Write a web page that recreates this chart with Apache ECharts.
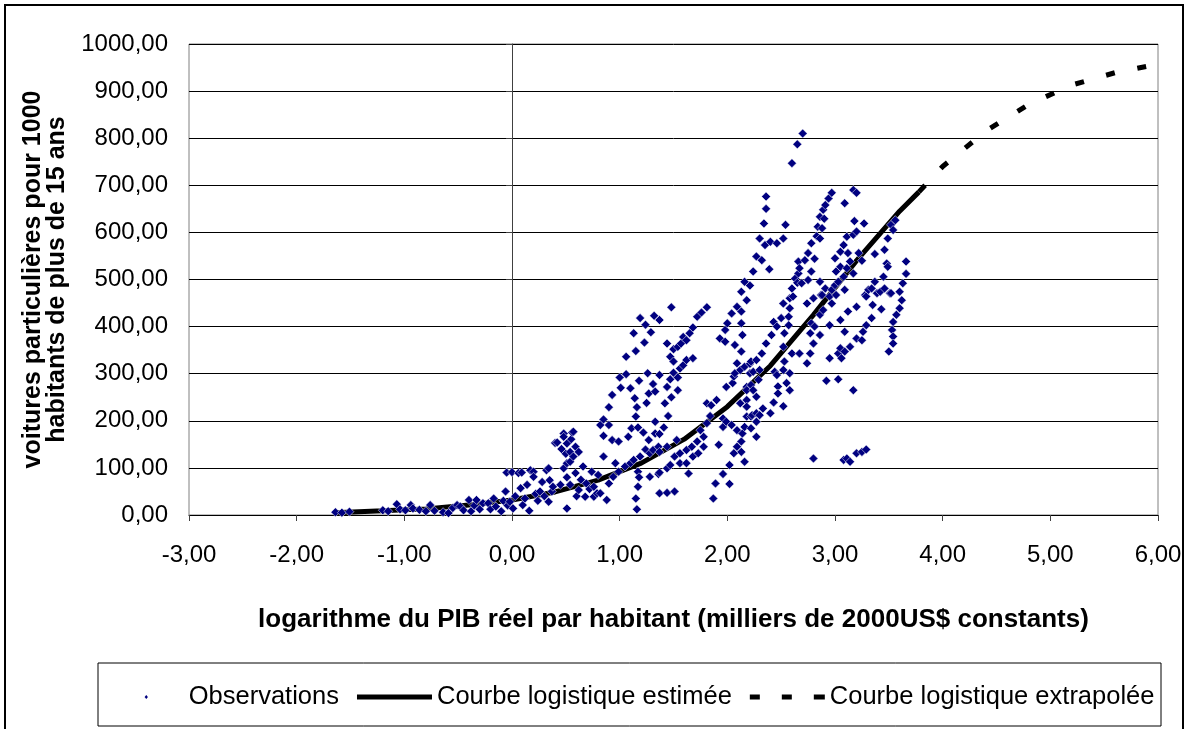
<!DOCTYPE html>
<html>
<head>
<meta charset="utf-8">
<script src="https://cdn.jsdelivr.net/npm/echarts/dist/echarts.min.js"></script>
<style>
html,body{margin:0;padding:0;background:#fff;}
#chart{width:1188px;height:729px;}
</style>
</head>
<body>
<div id="chart"></div>
<script>
// ---- Data ----
const xLabelTitle = "logarithme du PIB réel par habitant (milliers de 2000US$ constants)";
const yLabelTitle = "voitures particulières pour 1000\nhabitants de plus de 15 ans";
const seriesNames = ["Observations", "Courbe logistique estimée", "Courbe logistique extrapolée"];

// Observations, grouped by ranges of x  ([x, y] pairs)
const obsA = [[-1.64,6],[-1.58,5],[-1.51,7],
[-1.20,10],[-1.15,8],[-1.07,23],[-1.04,12],[-0.99,10],[-0.94,21],[-0.92,14],[-0.86,11],[-0.80,8],[-0.76,21],[-0.72,9],
[-0.64,6],[-0.59,4],[-0.55,15],[-0.51,21],[-0.48,18],[-0.45,10],[-0.40,32],[-0.38,8],[-0.35,20],[-0.33,32],[-0.30,12],[-0.27,25],[-0.22,25],[-0.20,12],[-0.17,35],[-0.15,18],[-0.10,8],[-0.08,30],[-0.06,50],[-0.05,90],[-0.04,20],[-0.02,28],
[0.00,91],[0.01,14],[0.03,40],[0.06,89],[0.08,57],[0.09,90],[0.10,21],[0.12,35],[0.14,64],[0.16,9],[0.17,95],[0.20,92],[0.20,81],[0.22,45],[0.24,30],[0.26,50],[0.28,70],[0.30,40],[0.32,95],[0.34,99],[0.34,28],[0.35,74],[0.37,50],[0.38,60]];
const obsB = [[0.40,153],[0.42,154],[0.45,64],[0.46,140],[0.48,173],[0.48,99],[0.48,166],[0.50,130],[0.51,14],[0.51,80],[0.51,110],[0.51,152],[0.54,134],[0.54,113],[0.54,64],[0.55,161],[0.56,175],[0.57,177],[0.57,124],[0.59,145],[0.59,89],[0.60,40],[0.62,134],[0.62,53],[0.64,75],[0.66,103],[0.68,39],[0.69,67],[0.72,55],[0.74,92],[0.76,60],[0.76,39],[0.79,46],[0.80,85],[0.82,46],[0.82,191],[0.85,203],[0.85,168],[0.85,124],[0.88,32],[0.90,229],[0.90,191],[0.90,67],[0.93,255],[0.93,159],[0.94,81],[0.96,110],[0.99,156],[0.99,92]];
const obsC = [[1.00,292],[1.01,270],[1.05,103],[1.06,336],[1.06,299],[1.08,166],[1.10,269],[1.10,110],[1.11,184],[1.13,386],[1.13,117],[1.14,248],[1.15,348],[1.15,209],[1.15,35],[1.16,229],[1.16,12],[1.17,186],[1.17,92],[1.17,60],[1.18,285],[1.18,80],[1.19,418],[1.19,124],[1.22,175],[1.23,366],[1.24,404],[1.24,139],[1.25,238],[1.26,301],[1.27,258],[1.27,159],[1.28,131],[1.28,81],[1.29,388],[1.31,278],[1.31,138],[1.32,423],[1.33,262],[1.33,198],[1.33,173],[1.36,145],[1.36,87],[1.37,414],[1.37,297],[1.37,172],[1.37,134],[1.37,90],[1.37,46],[1.41,186],[1.42,237],[1.44,364],[1.44,272],[1.44,145],[1.44,99],[1.44,47],[1.45,210],[1.47,336],[1.47,288],[1.47,106],[1.48,441],[1.48,250],[1.50,352],[1.50,326],[1.50,302],[1.51,124],[1.51,50],[1.53,159],[1.54,357],[1.54,292],[1.54,265],[1.56,311],[1.56,131],[1.56,110],[1.57,364],[1.59,378],[1.59,318]];
const obsD = [[1.62,371],[1.62,329],[1.62,138],[1.62,110],[1.64,88],[1.65,386],[1.67,145],[1.68,398],[1.68,333],[1.68,124],[1.72,421],[1.72,156],[1.73,131],[1.75,180],[1.76,430],[1.78,166],[1.78,145],[1.81,441],[1.81,237],[1.81,195],[1.84,210],[1.85,233],[1.87,35],[1.89,67],[1.90,244],[1.92,149],[1.93,375],[1.96,187],[1.96,205],[1.96,87],[1.98,368],[1.98,393],[1.99,272],[1.99,198],[2.00,407],[2.02,106],[2.02,66],[2.04,428],[2.04,191],[2.05,280],[2.06,294],[2.06,131],[2.07,361],[2.07,301],[2.09,442],[2.09,322],[2.09,180],[2.09,145],[2.12,308],[2.12,237],[2.13,474],[2.13,432],[2.13,407],[2.13,347],[2.13,156],[2.13,134],[2.14,382],[2.14,173],[2.16,495],[2.16,315],[2.16,187],[2.16,113],[2.18,456],[2.18,272],[2.18,265],[2.18,244],[2.18,230],[2.18,209]];
const obsE = [[2.21,487],[2.21,321],[2.21,301],[2.22,326],[2.22,276],[2.22,209],[2.22,184],[2.23,212],[2.24,517],[2.24,304],[2.24,265],[2.27,549],[2.27,329],[2.27,251],[2.27,216],[2.27,198],[2.27,166],[2.29,287],[2.30,587],[2.30,308],[2.30,212],[2.32,541],[2.32,343],[2.33,226],[2.34,619],[2.35,573],[2.36,676],[2.36,650],[2.36,364],[2.39,522],[2.40,580],[2.40,216],[2.41,382],[2.43,410],[2.43,239],[2.44,304],[2.46,577],[2.46,400],[2.46,297],[2.47,273],[2.47,258],[2.50,418],[2.52,587],[2.52,449],[2.52,357],[2.52,308],[2.52,231],[2.53,386],[2.53,326],[2.54,616],[2.55,280],[2.57,421],[2.57,403],[2.58,460],[2.58,439],[2.58,301],[2.58,265],[2.60,747],[2.60,481],[2.60,343],[2.61,464],[2.63,502],[2.65,787],[2.65,493],[2.66,538],[2.66,513],[2.67,524],[2.67,343],[2.69,492],[2.70,810],[2.72,541],[2.74,449],[2.74,322],[2.75,556],[2.75,499],[2.77,386],[2.77,343],[2.78,577],[2.78,517],[2.78,407],[2.80,460],[2.80,364],[2.80,120]];
const obsF = [[2.81,544],[2.81,400],[2.83,592],[2.84,612],[2.86,633],[2.86,587],[2.86,495],[2.86,425],[2.86,382],[2.87,467],[2.88,609],[2.88,467],[2.89,648],[2.89,435],[2.90,629],[2.91,658],[2.91,481],[2.92,285],[2.94,672],[2.95,464],[2.95,403],[2.95,333],[2.97,684],[2.97,478],[2.97,449],[3.00,545],[3.00,488],[3.01,517],[3.01,467],[3.03,495],[3.03,343],[3.03,288],[3.05,559],[3.05,527],[3.05,414],[3.05,354],[3.06,333],[3.08,573],[3.08,506],[3.08,117],[3.09,662],[3.09,478],[3.09,389],[3.09,347],[3.11,591],[3.11,524],[3.11,120],[3.12,556],[3.12,432],[3.14,538],[3.14,357],[3.14,113],[3.17,690],[3.17,595],[3.17,513],[3.17,265],[3.18,624],[3.20,684],[3.20,602],[3.20,442],[3.20,375],[3.20,131],[3.22,556],[3.25,540],[3.25,371],[3.25,134],[3.26,389],[3.27,619],[3.28,467],[3.29,464],[3.29,403],[3.29,139],[3.31,478],[3.34,481],[3.34,418],[3.35,446],[3.37,554],[3.37,495],[3.39,471],[3.42,474],[3.43,437],[3.45,506],[3.46,563],[3.46,481],[3.48,534],[3.49,587],[3.49,527],[3.50,347],[3.51,471],[3.52,616],[3.52,471],[3.53,393],[3.54,605],[3.54,410],[3.54,379],[3.54,364],[3.56,626],[3.57,425],[3.60,474],[3.60,439],[3.62,456],[3.63,492],[3.66,538],[3.66,512]];

// Estimated logistic curve
const curveX = [-1.65,-1.2,-0.8,-0.4,0,0.4,0.8,1.2,1.6,2.0,2.4,2.8,3.2,3.6,3.78];
const curveY = [5,9,13,21,32,49,74,110,161,230,317,425,540,645,686];
// Extrapolated logistic curve
const extraX = [3.78,4.0,4.4,4.8,5.2,5.6,5.95];
const extraY = [686,740,815,872,913,939,955];

// ---- Chart ----
const FONT = "Liberation Sans, Arial, sans-serif";
const fmt = v => v.toFixed(2).replace('.', ',');
const observations = [].concat(obsA, obsB, obsC, obsD, obsE, obsF);
const zip = (xs, ys) => xs.map((x, i) => [x, ys[i]]);

const chart = echarts.init(document.getElementById('chart'), null, {renderer: 'canvas'});
chart.setOption({
  animation: false,
  backgroundColor: '#fff',
  textStyle: {fontFamily: FONT, color: '#000'},
  graphic: [
    {type: 'rect', z: 0, shape: {x: 5, y: 5, width: 1178, height: 760},
     style: {fill: 'none', stroke: '#000', lineWidth: 2}},
    {type: 'rect', z: 0, shape: {x: 98, y: 663, width: 1063, height: 63},
     style: {fill: 'none', stroke: '#000', lineWidth: 1}}
  ],
  grid: {left: 189, right: 30, top: 44, bottom: 214, show: true, borderColor: '#808080', borderWidth: 1, backgroundColor: '#fff'},
  xAxis: {
    type: 'value', min: -3, max: 6, interval: 1,
    axisLine: {show: true, onZero: true, lineStyle: {color: '#000', width: 1}},
    axisTick: {show: true, inside: false, length: 6, lineStyle: {color: '#404040'}},
    axisLabel: {formatter: fmt, fontSize: 24, color: '#000', margin: 28, fontFamily: FONT},
    splitLine: {show: false},
    name: xLabelTitle, nameLocation: 'middle', nameGap: 92,
    nameTextStyle: {fontSize: 26, fontWeight: 'bold', color: '#000', fontFamily: FONT}
  },
  yAxis: [{
    type: 'value', min: 0, max: 1000, interval: 100,
    position: 'left',
    axisLine: {show: false, onZero: false},
    axisTick: {show: false},
    axisLabel: {formatter: fmt, fontSize: 24, color: '#000', margin: 21, fontFamily: FONT},
    splitLine: {show: true, lineStyle: {color: '#000', width: 1}},
    name: yLabelTitle, nameLocation: 'middle', nameRotate: 90, nameGap: 120,
    nameTextStyle: {fontSize: 25, fontWeight: 'bold', color: '#000', lineHeight: 24, fontFamily: FONT}
  }, {
    type: 'value', min: 0, max: 1000, interval: 100,
    position: 'left',
    axisLine: {show: true, onZero: true, lineStyle: {color: '#404040', width: 1}},
    axisTick: {show: true, inside: false, length: 6, lineStyle: {color: '#404040'}},
    axisLabel: {show: false},
    splitLine: {show: false}
  }],
  legend: {
    left: 114, top: 679,
    itemWidth: 75, itemHeight: 7, itemGap: 18,
    symbolKeepAspect: true,
    textStyle: {fontSize: 25.5, color: '#000', fontFamily: FONT},
    data: [
      {name: seriesNames[0], icon: 'path://M0,5L0,5M75,5L75,5M37.5,0L41.5,5L37.5,10L33.5,5Z'},
      {name: seriesNames[1], icon: 'path://M0,0h75v5h-75z'},
      {name: seriesNames[2], icon: 'path://M0,0h10v5h-10zM32,0h10v5h-10zM64,0h11v5h-11z'}
    ]
  },
  series: [
    {
      name: seriesNames[1], type: 'line', data: zip(curveX, curveY),
      symbol: 'none', smooth: false, z: 2,
      lineStyle: {color: '#000', width: 5, type: 'solid'},
      itemStyle: {color: '#000'}
    },
    {
      name: seriesNames[2], type: 'line', data: zip(extraX, extraY),
      symbol: 'none', smooth: false, z: 2,
      lineStyle: {color: '#000', width: 5, type: [9, 23]},
      itemStyle: {color: '#000'}
    },
    {
      name: seriesNames[0], type: 'scatter', data: observations,
      symbol: 'diamond', symbolSize: 9, z: 3,
      itemStyle: {color: '#000080', borderColor: '#ffffff', borderWidth: 0.5, opacity: 1}
    }
  ]
});
</script>
</body>
</html>
